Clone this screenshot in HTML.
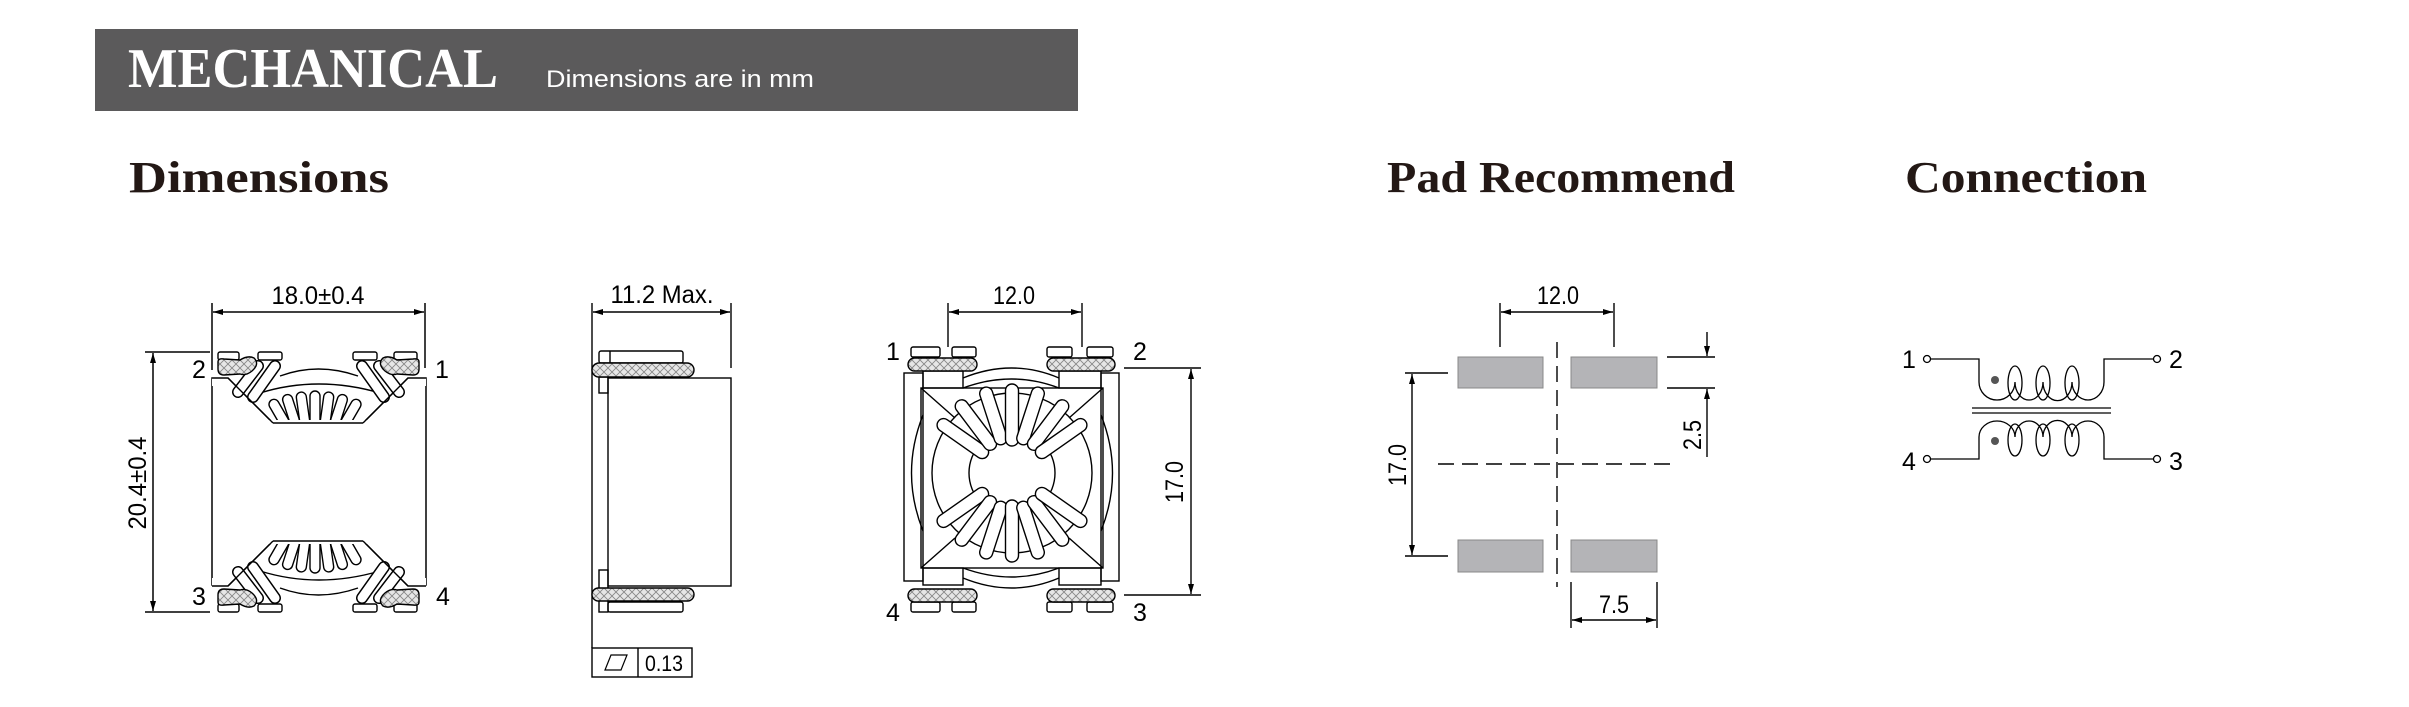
<!DOCTYPE html>
<html><head><meta charset="utf-8"><style>
html,body{margin:0;padding:0;background:#fff;}
svg{display:block;}
text{font-family:"Liberation Sans",sans-serif;}
.s{font-family:"Liberation Serif",serif;}
</style></head><body>
<svg width="2409" height="707" viewBox="0 0 2409 707" xmlns="http://www.w3.org/2000/svg">
<defs>
<pattern id="h" width="8" height="8" patternUnits="userSpaceOnUse">
<rect width="8" height="8" fill="#e6e6e6"/>
<path d="M0 0L8 8M8 0L0 8" stroke="#888" stroke-width="0.9"/>
</pattern>
<marker id="a" viewBox="0 0 10 6" refX="10" refY="3" markerWidth="10" markerHeight="6" orient="auto-start-reverse" markerUnits="userSpaceOnUse">
<path d="M0 0L10 3L0 6z" fill="#000"/>
</marker>
</defs>

<!-- header -->
<rect x="95" y="29" width="983" height="82" fill="#5b5a5b"/>
<text class="s" x="128" y="87" font-size="56" font-weight="bold" fill="#fff" textLength="370" lengthAdjust="spacingAndGlyphs">MECHANICAL</text>
<text x="546" y="87" font-size="24" fill="#fff" textLength="268" lengthAdjust="spacingAndGlyphs">Dimensions are in mm</text>

<text class="s" x="129" y="192" font-size="44" font-weight="bold" fill="#231815" textLength="260" lengthAdjust="spacingAndGlyphs">Dimensions</text>
<text class="s" x="1387" y="192" font-size="44" font-weight="bold" fill="#231815" textLength="348" lengthAdjust="spacingAndGlyphs">Pad Recommend</text>
<text class="s" x="1905" y="192" font-size="44" font-weight="bold" fill="#231815" textLength="242" lengthAdjust="spacingAndGlyphs">Connection</text>

<g fill="none" stroke="#000" stroke-width="1.5">
<line x1="212" y1="303" x2="212" y2="370"/>
<line x1="425" y1="303" x2="425" y2="368"/>
<line x1="213" y1="312" x2="424" y2="312" marker-start="url(#a)" marker-end="url(#a)"/>
<line x1="145" y1="352" x2="210" y2="352"/>
<line x1="145" y1="612" x2="210" y2="612"/>
<line x1="153" y1="353" x2="153" y2="611" marker-start="url(#a)" marker-end="url(#a)"/>
<rect x="212" y="378" width="214" height="207"/>
</g>
<g id="fw" fill="none" stroke="#000" stroke-width="1.4">
<rect x="212" y="376" width="214" height="10" fill="#fff" stroke="none"/>
<path d="M212 378H228L273 423H363L408 378H426"/>
<path d="M280 376Q318 362 358 376"/>
<path d="M260 393Q318 375 380 393"/>
<g fill="#fff">
<rect x="274" y="398" width="10" height="30" rx="5" transform="rotate(-30 279 413)"/>
<rect x="286" y="394" width="10" height="32" rx="5" transform="rotate(-18 291 410)"/>
<rect x="298" y="392" width="10" height="34" rx="5" transform="rotate(-8 303 409)"/>
<rect x="310" y="391" width="10" height="34" rx="5"/>
<rect x="322" y="392" width="10" height="34" rx="5" transform="rotate(8 327 409)"/>
<rect x="334" y="394" width="10" height="32" rx="5" transform="rotate(18 339 410)"/>
<rect x="346" y="398" width="10" height="30" rx="5" transform="rotate(30 351 413)"/>
</g>
<rect x="260" y="420" width="118" height="10" fill="#fff" stroke="none"/>
<path d="M273 423H363"/>
<path d="M258 366L238 392" stroke-width="12" stroke-linecap="round"/>
<path d="M258 366L238 392" stroke-width="9" stroke="#fff" stroke-linecap="round"/>
<path d="M275 366L253 397" stroke-width="12" stroke-linecap="round"/>
<path d="M275 366L253 397" stroke-width="9" stroke="#fff" stroke-linecap="round"/>
<path d="M379 366L399 392" stroke-width="12" stroke-linecap="round"/>
<path d="M379 366L399 392" stroke-width="9" stroke="#fff" stroke-linecap="round"/>
<path d="M362 366L384 397" stroke-width="12" stroke-linecap="round"/>
<path d="M362 366L384 397" stroke-width="9" stroke="#fff" stroke-linecap="round"/>
<path d="M228 378L273 423M408 378L363 423"/>
<rect x="218" y="352" width="21" height="8" rx="2" fill="#fff"/>
<rect x="258" y="352" width="24" height="8" rx="2" fill="#fff"/>
<rect x="353" y="352" width="24" height="8" rx="2" fill="#fff"/>
<rect x="394" y="352" width="23" height="8" rx="2" fill="#fff"/>
<path d="M218 362Q218 358 224 359L240 360Q248 355 254 358Q260 364 252 371Q246 376 240 374L224 375Q218 375 218 369Z" fill="url(#h)"/>
<path d="M419 362Q419 358 413 359L397 360Q389 355 383 358Q377 364 385 371Q391 376 397 374L413 375Q419 375 419 369Z" fill="url(#h)"/>
</g>
<use href="#fw" transform="matrix(1,0,0,-1,0,964)"/>
<g font-size="25" fill="#000">
<text x="318" y="304" text-anchor="middle" textLength="93" lengthAdjust="spacingAndGlyphs">18.0±0.4</text>
<text transform="translate(146 483) rotate(-90)" text-anchor="middle" textLength="93" lengthAdjust="spacingAndGlyphs">20.4±0.4</text>
<text x="199" y="378" text-anchor="middle">2</text>
<text x="442" y="378" text-anchor="middle">1</text>
<text x="199" y="605" text-anchor="middle">3</text>
<text x="443" y="605" text-anchor="middle">4</text>
</g>

<g fill="none" stroke="#000" stroke-width="1.4">
<line x1="592" y1="303" x2="592" y2="648"/>
<line x1="731" y1="303" x2="731" y2="368"/>
<line x1="593" y1="312" x2="730" y2="312" marker-start="url(#a)" marker-end="url(#a)"/>
<rect x="608" y="378" width="123" height="208"/>
<rect x="599" y="351" width="84" height="12" rx="2"/>
<line x1="610" y1="351" x2="610" y2="363"/>
<rect x="599" y="377" width="9" height="16"/>
<rect x="592" y="363" width="102" height="14" rx="7" fill="url(#h)"/>
<rect x="599" y="570" width="9" height="42"/>
<rect x="592" y="588" width="102" height="13" rx="6.5" fill="url(#h)"/>
<rect x="608" y="602" width="75" height="10" rx="2"/>
<rect x="592" y="648" width="100" height="29"/>
<line x1="638" y1="648" x2="638" y2="677"/>
<path d="M605 670L611 655H627L621 670Z" stroke-width="1.2"/>
</g>
<g font-size="25" fill="#000">
<text x="662" y="303" text-anchor="middle" textLength="103" lengthAdjust="spacingAndGlyphs">11.2 Max.</text>
<text x="664" y="671" text-anchor="middle" font-size="22" textLength="38" lengthAdjust="spacingAndGlyphs">0.13</text>
</g>

<g fill="none" stroke="#000" stroke-width="1.4">
<line x1="948" y1="303" x2="948" y2="347"/>
<line x1="1082" y1="303" x2="1082" y2="347"/>
<line x1="949" y1="312" x2="1081" y2="312" marker-start="url(#a)" marker-end="url(#a)"/>
<line x1="1124" y1="368" x2="1201" y2="368"/>
<line x1="1124" y1="595" x2="1201" y2="595"/>
<line x1="1191" y1="369" x2="1191" y2="594" marker-start="url(#a)" marker-end="url(#a)"/>
<rect x="904" y="373" width="19" height="208"/>
<rect x="1101" y="373" width="18" height="208"/>
<rect x="921" y="388" width="182" height="180"/>
<path d="M921 388L955 418M1103 388L1069 418M921 568L955 538M1103 568L1069 538"/>
<rect x="923" y="371" width="40" height="17"/>
<rect x="1059" y="371" width="42" height="17"/>
<rect x="923" y="568" width="40" height="17"/>
<rect x="1059" y="568" width="42" height="17"/>
<path d="M963 378Q1012 358 1059 378"/>
<path d="M963 578Q1012 598 1059 578"/>
<path d="M963 388Q1012 370 1059 388"/>
<path d="M963 568Q1012 586 1059 568"/>
<path d="M923 415Q900 473 923 531"/>
<path d="M1101 415Q1124 473 1101 531"/>
<circle cx="1012" cy="473" r="80"/>
<circle cx="1012" cy="473" r="43"/>
<g fill="#fff">
<g transform="translate(1012 473)">
<rect x="30" y="-6.5" width="60" height="13" rx="6.5" transform="rotate(-145)"/>
<rect x="30" y="-6.5" width="60" height="13" rx="6.5" transform="rotate(-127)"/>
<rect x="30" y="-6.5" width="60" height="13" rx="6.5" transform="rotate(-108)"/>
<rect x="27" y="-6.5" width="62" height="13" rx="6.5" transform="rotate(-90)"/>
<rect x="30" y="-6.5" width="60" height="13" rx="6.5" transform="rotate(-72)"/>
<rect x="30" y="-6.5" width="60" height="13" rx="6.5" transform="rotate(-53)"/>
<rect x="30" y="-6.5" width="60" height="13" rx="6.5" transform="rotate(-35)"/>
<rect x="30" y="-6.5" width="60" height="13" rx="6.5" transform="rotate(145)"/>
<rect x="30" y="-6.5" width="60" height="13" rx="6.5" transform="rotate(127)"/>
<rect x="30" y="-6.5" width="60" height="13" rx="6.5" transform="rotate(108)"/>
<rect x="27" y="-6.5" width="62" height="13" rx="6.5" transform="rotate(90)"/>
<rect x="30" y="-6.5" width="60" height="13" rx="6.5" transform="rotate(72)"/>
<rect x="30" y="-6.5" width="60" height="13" rx="6.5" transform="rotate(53)"/>
<rect x="30" y="-6.5" width="60" height="13" rx="6.5" transform="rotate(35)"/>
</g>
<rect x="911" y="347" width="29" height="10" rx="2"/>
<rect x="952" y="347" width="24" height="10" rx="2"/>
<rect x="1047" y="347" width="25" height="10" rx="2"/>
<rect x="1087" y="347" width="26" height="10" rx="2"/>
<rect x="911" y="602" width="29" height="10" rx="2"/>
<rect x="952" y="602" width="24" height="10" rx="2"/>
<rect x="1047" y="602" width="25" height="10" rx="2"/>
<rect x="1087" y="602" width="26" height="10" rx="2"/>
</g>
<rect x="908" y="358" width="69" height="13" rx="6.5" fill="url(#h)"/>
<rect x="1047" y="358" width="68" height="13" rx="6.5" fill="url(#h)"/>
<rect x="908" y="589" width="69" height="13" rx="6.5" fill="url(#h)"/>
<rect x="1047" y="589" width="68" height="13" rx="6.5" fill="url(#h)"/>
</g>
<g font-size="25" fill="#000">
<text x="1014" y="304" text-anchor="middle" textLength="42" lengthAdjust="spacingAndGlyphs">12.0</text>
<text transform="translate(1183 482) rotate(-90)" text-anchor="middle" textLength="42" lengthAdjust="spacingAndGlyphs">17.0</text>
<text x="893" y="360" text-anchor="middle">1</text>
<text x="1140" y="360" text-anchor="middle">2</text>
<text x="893" y="621" text-anchor="middle">4</text>
<text x="1140" y="621" text-anchor="middle">3</text>
</g>

<g fill="#b4b4b7" stroke="#888" stroke-width="1">
<rect x="1458" y="357" width="85" height="31"/>
<rect x="1571" y="357" width="86" height="31"/>
<rect x="1458" y="540" width="85" height="32"/>
<rect x="1571" y="540" width="86" height="32"/>
</g>
<g fill="none" stroke="#000" stroke-width="1.4">
<line x1="1557" y1="342" x2="1557" y2="587" stroke-dasharray="16 8"/>
<line x1="1438" y1="464" x2="1677" y2="464" stroke-dasharray="16 8"/>
<line x1="1500" y1="303" x2="1500" y2="347"/>
<line x1="1614" y1="303" x2="1614" y2="347"/>
<line x1="1501" y1="312" x2="1613" y2="312" marker-start="url(#a)" marker-end="url(#a)"/>
<line x1="1405" y1="373" x2="1448" y2="373"/>
<line x1="1405" y1="556" x2="1448" y2="556"/>
<line x1="1412" y1="374" x2="1412" y2="555" marker-start="url(#a)" marker-end="url(#a)"/>
<line x1="1667" y1="357" x2="1715" y2="357"/>
<line x1="1667" y1="388" x2="1715" y2="388"/>
<line x1="1707" y1="332" x2="1707" y2="356" marker-end="url(#a)"/>
<line x1="1707" y1="457" x2="1707" y2="389" marker-end="url(#a)"/>
<line x1="1571" y1="582" x2="1571" y2="628"/>
<line x1="1657" y1="582" x2="1657" y2="628"/>
<line x1="1572" y1="620" x2="1656" y2="620" marker-start="url(#a)" marker-end="url(#a)"/>
</g>
<g font-size="25" fill="#000">
<text x="1558" y="304" text-anchor="middle" textLength="42" lengthAdjust="spacingAndGlyphs">12.0</text>
<text transform="translate(1406 465) rotate(-90)" text-anchor="middle" textLength="42" lengthAdjust="spacingAndGlyphs">17.0</text>
<text transform="translate(1701 435) rotate(-90)" text-anchor="middle" textLength="30" lengthAdjust="spacingAndGlyphs">2.5</text>
<text x="1614" y="613" text-anchor="middle" textLength="30" lengthAdjust="spacingAndGlyphs">7.5</text>
</g>

<g fill="none" stroke="#000" stroke-width="1.3">
<circle cx="1927" cy="359" r="3.5"/>
<circle cx="2157" cy="359" r="3.5"/>
<circle cx="1927" cy="459" r="3.5"/>
<circle cx="2157" cy="459" r="3.5"/>
<path d="M1931 359H1979V382"/>
<path d="M2153 359H2104V382"/>
<path d="M1931 459H1979V437"/>
<path d="M2153 459H2104V437"/>
<path d="M1979 382A18 18 0 0 0 2015 382A14 18 0 0 0 2043 382A14 18 0 0 0 2072 382A16 18 0 0 0 2104 382"/>
<path d="M1979 437A18 16 0 0 1 2015 437A14 16 0 0 1 2043 437A14 16 0 0 1 2072 437A16 16 0 0 1 2104 437"/>
<ellipse cx="2015" cy="383" rx="7" ry="17"/>
<ellipse cx="2043" cy="383" rx="7" ry="17"/>
<ellipse cx="2072" cy="383" rx="7" ry="17"/>
<ellipse cx="2015" cy="440" rx="7" ry="16"/>
<ellipse cx="2043" cy="440" rx="7" ry="16"/>
<ellipse cx="2072" cy="440" rx="7" ry="16"/>
<line x1="1972" y1="408" x2="2111" y2="408"/>
<line x1="1972" y1="413" x2="2111" y2="413"/>
</g>
<circle cx="1995" cy="380" r="4" fill="#555"/>
<circle cx="1995" cy="441" r="4" fill="#555"/>
<g font-size="25" fill="#000">
<text x="1909" y="368" text-anchor="middle">1</text>
<text x="2176" y="368" text-anchor="middle">2</text>
<text x="1909" y="470" text-anchor="middle">4</text>
<text x="2176" y="470" text-anchor="middle">3</text>
</g>
</svg>
</body></html>
